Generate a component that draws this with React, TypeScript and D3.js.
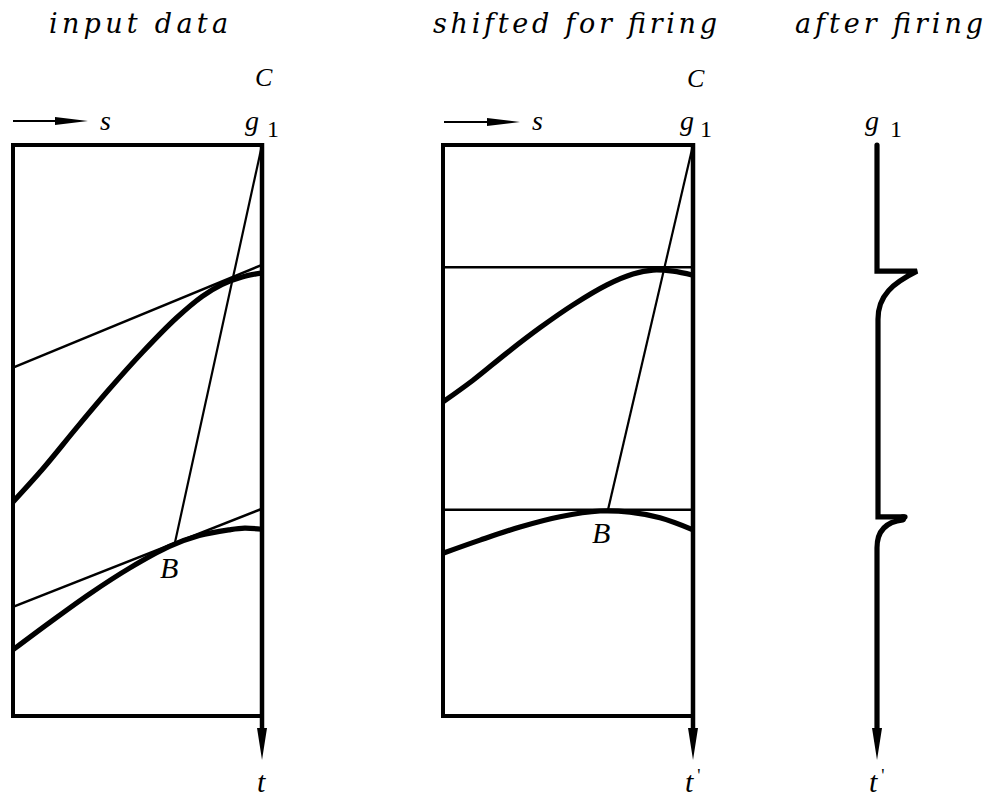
import React from "react";
import * as d3 from "d3";

type P = [number, number];

// ---- data (s across, t down) ----
const S_DOMAIN: [number, number] = [0, 100];
const T_DOMAIN: [number, number] = [0, 100];

// panel 1: input data
const inputUpperCurve: P[] = [[0, 62.5], [12, 56.7], [25.6, 49.5], [38.8, 42.7], [52, 36.3], [65.6, 30.3], [76, 26.5], [84, 24.4], [92, 23.1], [100, 22.4]];
const inputUpperTangent: P[] = [[0, 39.0], [100, 21.0]];
const inputLowerCurve: P[] = [[0, 88.4], [14.8, 83.6], [30.8, 78.6], [46.8, 74.1], [62.8, 70.3], [74.8, 68.4], [86.8, 67.4], [93, 67.1], [100, 67.3]];
const inputLowerTangent: P[] = [[0, 80.9], [100, 63.7]];
const inputChordCB: P[] = [[100, 0], [65, 69.7]];

// panel 2: shifted for firing
const shiftedUpperCurve: P[] = [[0, 45.0], [12, 41.2], [25.6, 36.4], [38.8, 32.0], [52, 28.0], [65.6, 24.5], [76, 22.6], [84, 21.9], [92, 22.1], [100, 22.8]];
const shiftedUpperLine: P[] = [[0, 21.4], [100, 21.4]];
const shiftedLowerCurve: P[] = [[0, 71.5], [14.8, 69.2], [30.8, 66.9], [46.8, 65.1], [62.8, 64.1], [74.8, 64.3], [86.8, 65.3], [100, 67.4]];
const shiftedLowerLine: P[] = [[0, 63.9], [100, 63.9]];
const shiftedChordCB: P[] = [[100, 0], [66, 63.9]];

// panel 3: after firing (break points along t')
const afterFiringBreaks: number[] = [22.1, 65.3];

const titles = ["input data", "shifted for firing", "after firing"];

export default function App() {
  const W = 987, H = 798;
  const y = d3.scaleLinear().domain(T_DOMAIN).range([145, 716]);
  const x1 = d3.scaleLinear().domain(S_DOMAIN).range([13, 262]);
  const x2 = d3.scaleLinear().domain(S_DOMAIN).range([443, 693]);
  const x3 = d3.scaleLinear().domain(S_DOMAIN).range([627, 877]);

  const mk = (xs: d3.ScaleLinear<number, number>) =>
    d3.line<P>().x((d) => xs(d[0])).y((d) => y(d[1])).curve(d3.curveCatmullRom.alpha(0.5));
  const mkStraight = (xs: d3.ScaleLinear<number, number>) =>
    d3.line<P>().x((d) => xs(d[0])).y((d) => y(d[1]));

  const l1 = mk(x1), s1 = mkStraight(x1);
  const l2 = mk(x2), s2 = mkStraight(x2);

  const thin = 2.5, thick = 5.2, frame = 4;
  const font = "'Liberation Serif', 'DejaVu Serif', serif";
  const titleFont = "'DejaVu Serif', 'Liberation Serif', serif";

  const tipY = y(100) + 44;
  const arrowDown = (xc: number) => {
    const p = d3.path();
    p.moveTo(xc - 5, tipY - 32);
    p.lineTo(xc + 5, tipY - 32);
    p.lineTo(xc, tipY);
    p.closePath();
    return p.toString();
  };
  const arrowRight = (x0: number, x1e: number, yc: number) => {
    const p = d3.path();
    p.moveTo(x1e - 33, yc - 4);
    p.lineTo(x1e, yc);
    p.lineTo(x1e - 33, yc + 4);
    p.closePath();
    return { head: p.toString(), line: [x0, x1e - 20, yc] };
  };

  const frameBox = (xs: d3.ScaleLinear<number, number>) => {
    const p = d3.path();
    p.moveTo(xs(100), y(0));
    p.lineTo(xs(0), y(0));
    p.lineTo(xs(0), y(100));
    p.lineTo(xs(100), y(100));
    return p.toString();
  };

  // after-firing brace path
  const xr = x3(100);
  const yb1 = y(afterFiringBreaks[0]);
  const yb2 = y(afterFiringBreaks[1]);
  const brace = d3.path();
  brace.moveTo(xr, y(0));
  brace.lineTo(xr, yb1);
  brace.lineTo(xr + 40, yb1);
  brace.bezierCurveTo(xr + 16, yb1 + 12, xr + 1, yb1 + 24, xr + 1, yb1 + 48);
  brace.lineTo(xr + 1, yb2 - 1);
  brace.lineTo(xr + 28, yb2 - 1);
  const brace2 = d3.path();
  brace2.moveTo(xr + 26, yb2 + 2);
  brace2.bezierCurveTo(xr + 8, yb2 + 4, xr, yb2 + 14, xr, yb2 + 30);
  brace2.lineTo(xr, tipY - 20);

  const a1 = arrowRight(x1(0), 88, 121);
  const a2 = arrowRight(x2(0) + 1, 520, 122);

  const lbl = { fontFamily: font, fontStyle: "italic" as const, fill: "#000" };
  const ttl = { fontFamily: titleFont, fontStyle: "italic" as const, fill: "#000", fontSize: 27 };

  return (
    <svg width={W} height={H} style={{ position: "absolute", left: 0, top: 0, background: "#fff" }}>
      <rect width={W} height={H} fill="#fff" />
      {/* titles */}
      <text x={49} y={33} textLength={179} lengthAdjust="spacing" {...ttl}>{titles[0]}</text>
      <text x={433} y={33} textLength={284} lengthAdjust="spacing" {...ttl}>{titles[1]}</text>
      <text x={795} y={33} textLength={188} lengthAdjust="spacing" {...ttl}>{titles[2]}</text>

      {/* C labels */}
      <text x={255} y={86} fontSize={26} {...lbl}>C</text>
      <text x={687} y={87} fontSize={26} {...lbl}>C</text>

      {/* g1 labels */}
      {[[245, 267], [680, 700], [865, 890]].map(([gx, ox], i) => (
        <g key={i}>
          <text x={gx} y={130} fontSize={28} {...lbl}>g</text>
          <text x={ox} y={137} fontSize={24} fontFamily={font} fill="#000">1</text>
        </g>
      ))}

      {/* s arrows */}
      {[a1, a2].map((a, i) => (
        <g key={i}>
          <line x1={a.line[0]} x2={a.line[1]} y1={a.line[2]} y2={a.line[2]} stroke="#000" strokeWidth={1.8} />
          <path d={a.head} fill="#000" />
        </g>
      ))}
      <text x={100} y={130} fontSize={28} {...lbl}>s</text>
      <text x={532} y={130} fontSize={28} {...lbl}>s</text>

      {/* panel 1 */}
      <path d={frameBox(x1) || ""} fill="none" stroke="#000" strokeWidth={frame} strokeLinejoin="miter" />
      <line x1={x1(100)} x2={x1(100)} y1={y(0) - 2} y2={tipY - 20} stroke="#000" strokeWidth={frame + 0.5} />
      <path d={arrowDown(x1(100))} fill="#000" />
      <path d={s1(inputUpperTangent) || ""} fill="none" stroke="#000" strokeWidth={thin} />
      <path d={s1(inputLowerTangent) || ""} fill="none" stroke="#000" strokeWidth={thin} />
      <path d={s1(inputChordCB) || ""} fill="none" stroke="#000" strokeWidth={thin - 0.3} />
      <path d={l1(inputUpperCurve) || ""} fill="none" stroke="#000" strokeWidth={thick} />
      <path d={l1(inputLowerCurve) || ""} fill="none" stroke="#000" strokeWidth={thick} />
      <text x={160} y={578} fontSize={30} {...lbl}>B</text>
      <text x={257} y={792} fontSize={30} {...lbl}>t</text>

      {/* panel 2 */}
      <path d={frameBox(x2) || ""} fill="none" stroke="#000" strokeWidth={frame} strokeLinejoin="miter" />
      <line x1={x2(100)} x2={x2(100)} y1={y(0) - 2} y2={tipY - 20} stroke="#000" strokeWidth={frame + 0.5} />
      <path d={arrowDown(x2(100))} fill="#000" />
      <path d={s2(shiftedUpperLine) || ""} fill="none" stroke="#000" strokeWidth={thin} />
      <path d={s2(shiftedLowerLine) || ""} fill="none" stroke="#000" strokeWidth={thin} />
      <path d={s2(shiftedChordCB) || ""} fill="none" stroke="#000" strokeWidth={thin - 0.3} />
      <path d={l2(shiftedUpperCurve) || ""} fill="none" stroke="#000" strokeWidth={thick} />
      <path d={l2(shiftedLowerCurve) || ""} fill="none" stroke="#000" strokeWidth={thick} />
      <text x={592} y={543} fontSize={30} {...lbl}>B</text>
      <text x={685} y={792} fontSize={30} {...lbl}>t<tspan dx={4} dy={-10} fontSize={18} fontStyle="normal">'</tspan></text>

      {/* panel 3 */}
      <path d={brace.toString()} fill="none" stroke="#000" strokeWidth={thick} strokeLinejoin="miter" strokeLinecap="round" />
      <path d={brace2.toString()} fill="none" stroke="#000" strokeWidth={thick} strokeLinecap="round" />
      <circle cx={xr + 26} cy={yb2} r={3.5} fill="#000" />
      <path d={arrowDown(xr)} fill="#000" />
      <text x={869} y={792} fontSize={30} {...lbl}>t<tspan dx={4} dy={-10} fontSize={18} fontStyle="normal">'</tspan></text>
    </svg>
  );
}
